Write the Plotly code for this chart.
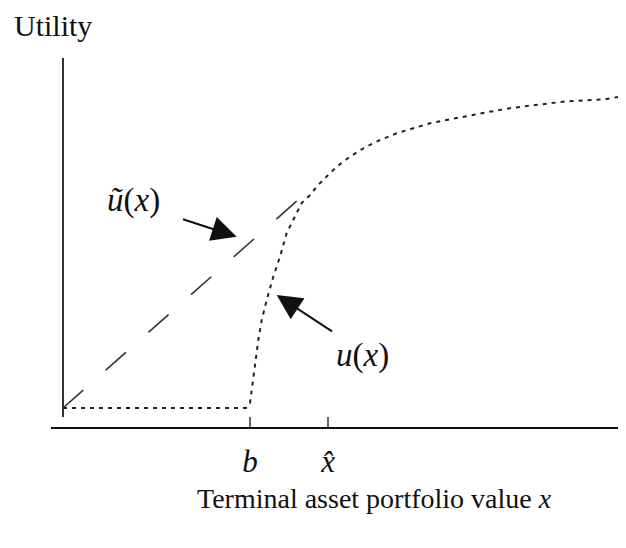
"""Utility function and its concave envelope."""

import plotly.graph_objects as go

# u(x): flat at the floor up to b, steep rise, then concave
u_x = [0, 18.3, 18.7, 18.85, 19.03, 19.3, 19.53, 19.87, 20.37, 21.03, 21.7, 22.37, 22.87,
       23.37, 23.87, 24.7, 25.37, 26.2, 27.37, 28.7, 30.03, 31.7, 33.37, 35.03,
       36.7, 38.37, 40.03, 42.37, 45.03, 47.7, 50.03, 54.37, 55.5]
u_y = [1.9, 1.9, 2.4, 3.6, 5.03, 7.03, 8.7, 10.7, 12.7, 15.03, 17.03, 19.4, 20.4,
       21.4, 22.4, 23.2, 24.03, 24.9, 26.03, 27.03, 27.87, 28.7, 29.37, 29.87,
       30.37, 30.7, 31.03, 31.47, 31.93, 32.27, 32.53, 32.8, 33.0]

# u~(x): straight chord from the floor level to the tangency region
ut_x = [0, 23.87]
ut_y = [1.9, 23.03]

tick_vals = [18.7, 26.5]
tick_text = ["<i>b</i>", "<i>x̂</i>"]

FONT = "Liberation Serif"
INK = "#111111"

fig = go.Figure()

# vertical axis line
fig.add_trace(go.Scatter(x=[0, 0], y=[1.0, 36.9], mode="lines",
                         line=dict(color="#333333", width=2), hoverinfo="skip"))
# tick marks crossing the horizontal axis
for tv in tick_vals:
    fig.add_trace(go.Scatter(x=[tv, tv], y=[-1.5, 1.0], mode="lines",
                             line=dict(color="#333333", width=1.5), hoverinfo="skip"))

fig.add_trace(go.Scatter(x=ut_x, y=ut_y, mode="lines",
                         line=dict(color="#333333", width=1.6, dash="27px,30px")))
fig.add_trace(go.Scatter(x=u_x, y=u_y, mode="lines",
                         line=dict(color="#222222", width=2, dash="4px,5px")))

# arrows pointing at the two curves
fig.add_annotation(x=17.37, y=19.03, ax=11.7, ay=20.87, axref="x", ayref="y",
                   text=" ", showarrow=True, arrowhead=2, arrowsize=2.5,
                   arrowwidth=2, arrowcolor=INK, standoff=0)
fig.add_annotation(x=21.37, y=13.2, ax=27.2, ay=9.37, axref="x", ayref="y",
                   text=" ", showarrow=True, arrowhead=2, arrowsize=2.5,
                   arrowwidth=2, arrowcolor=INK, standoff=0)

fig.add_annotation(x=7.0, y=22.7, text="<i>ũ</i>(<i>x</i>)", showarrow=False,
                   font=dict(family=FONT, size=33, color=INK))
fig.add_annotation(x=29.9, y=7.2, text="<i>u</i>(<i>x</i>)", showarrow=False,
                   font=dict(family=FONT, size=33, color=INK))
fig.add_annotation(x=-0.068, y=1.089, xref="paper", yref="paper",
                   xanchor="left", yanchor="middle",
                   text="Utility", showarrow=False,
                   font=dict(family=FONT, size=30, color=INK))
fig.add_annotation(x=0.875, y=-0.195, xref="paper", yref="paper",
                   xanchor="right", yanchor="middle",
                   text="Terminal asset portfolio value <i>x</i>", showarrow=False,
                   font=dict(family=FONT, size=28, color=INK))

# page body adds an 8px margin, so the figure is drawn 8px smaller and shifted
fig.update_layout(
    width=618, height=540,
    margin=dict(l=43, r=0, t=50, b=121),
    paper_bgcolor="white", plot_bgcolor="white",
    showlegend=False,
    xaxis=dict(range=[-1.2, 56.3], showgrid=False, zeroline=False,
               showline=True, linecolor="#111111", linewidth=2,
               tickvals=tick_vals, ticktext=tick_text, ticks="",
               ticklabelstandoff=6,
               tickfont=dict(family=FONT, size=31, color=INK)),
    yaxis=dict(range=[0, 36.9], showgrid=False, zeroline=False,
               showline=False, showticklabels=False),
)

fig.write_html("out.html")
